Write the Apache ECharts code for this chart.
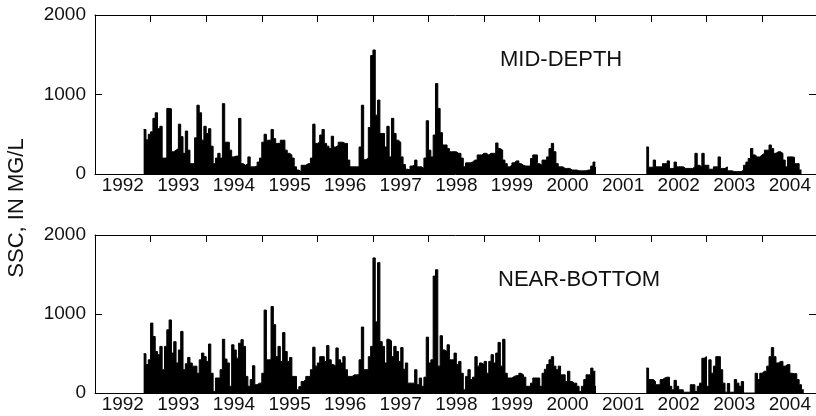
<!DOCTYPE html>
<html>
<head>
<meta charset="utf-8">
<script src="https://cdn.jsdelivr.net/npm/echarts@6/dist/echarts.min.js"></script>
<style>
html, body { margin: 0; padding: 0; background: #fff; }
#chart { width: 816px; height: 416px; }
</style>
</head>
<body>
<div id="chart"></div>
<script>
// one row per year, 24 half-month values (SSC, mg/L), null = no record
const years = [1992, 1993, 1994, 1995, 1996, 1997, 1998, 1999, 2000, 2001, 2002, 2003, 2004]
const yearTicks = [1993, 1994, 1995, 1996, 1997, 1998, 1999, 2000, 2001, 2002, 2003, 2004]
const yearLabelPos = [1992.5, 1993.5, 1994.5, 1995.5, 1996.5, 1997.5, 1998.5, 1999.5, 2000.5, 2001.5, 2002.5, 2003.5, 2004.5]
const panelNames = ['MID-DEPTH', 'NEAR-BOTTOM']

const midDepth = [
  [null, null, null, null, null, null, null, null, null, null, null, null, null, null, null, null, null, null, null, null, null, 560, 430, 500],
  [530, 700, 770, 570, 600, 200, 200, 825, 820, 280, 300, 320, 627, 470, 260, 540, 300, 130, 130, 455, 865, 770, 426, 600],
  [510, 570, 350, 130, 200, 260, 200, 885, 400, 400, 300, 215, 225, 225, 700, 130, 110, 130, 215, 90, 90, 100, 150, 200],
  [400, 500, 425, 425, 560, 445, 385, 385, 425, 425, 300, 260, 240, 200, 90, 50, 30, 110, 110, 130, 130, 200, 627, 385],
  [400, 490, 560, 385, 350, 320, 475, 340, 360, 400, 400, 385, 385, 175, 90, 90, 90, 90, 340, 865, 180, 200, 585, 1490],
  [1560, 740, 930, 510, 510, 340, 600, 215, 700, 510, 425, 400, 215, 120, 60, 50, 100, 113, 175, 90, 90, 70, 200, 670],
  [300, 215, 490, 1137, 825, 520, 365, 365, 320, 280, 280, 280, 260, 260, 200, 90, 140, 140, 150, 175, 175, 240, 240, 260],
  [260, 240, 260, 260, 260, 390, 320, 300, 175, 130, 90, 110, 140, 165, 165, 130, 110, 100, 100, 100, 195, 240, 240, 130],
  [110, 175, 175, 215, 320, 385, 280, 130, 90, 90, 70, 70, 70, 50, 50, 50, 40, 40, 40, 40, 50, 50, 100, 150],
  [null, null, null, null, null, null, null, null, null, null, null, null, null, null, null, null, null, null, null, null, null, null, 340, 85],
  [85, 175, 90, 90, 90, 130, 130, 165, 70, 70, 150, 90, 90, 90, 70, 70, 70, 70, 90, 260, 110, 90, 260, 110],
  [110, 60, 60, 90, 90, 215, 70, 70, 90, 40, 40, 30, 30, 30, 30, 50, 110, 150, 195, 320, 240, 215, 215, 240],
  [260, 300, 300, 365, 320, 260, 280, 280, 260, 175, 90, 215, 215, 210, 130, 130, 50, null, null, null, null, null, null, null]
]

const nearBottom = [
  [null, null, null, null, null, null, null, null, null, null, null, null, null, null, null, null, null, null, null, null, null, 497, 360, 420],
  [885, 715, 525, 485, 590, 295, 590, 800, 925, 505, 650, 380, 545, 780, 295, 370, 450, 380, 340, 340, 250, 420, 505, 460],
  [400, 620, 250, 20, 190, 190, 295, 680, 430, 380, 85, 610, 545, 440, 630, 675, 590, 210, 85, 170, 345, 105, 125, 125],
  [250, 1050, 420, 420, 1095, 865, 460, 590, 400, 765, 525, 400, 450, 210, 210, 40, 80, 145, 170, 210, 210, 295, 580, 340],
  [380, 460, 460, 400, 600, 420, 360, 340, 570, 420, 380, 460, 295, 210, 210, 230, 230, 230, 420, 835, 295, 295, 460, 590],
  [1710, 900, 1650, 650, 590, 380, 680, 660, 460, 590, 525, 400, 575, 300, 380, 125, 125, 125, 295, 105, 190, 85, 200, 707],
  [380, 420, 1480, 1560, 340, 725, 545, 525, 610, 420, 420, 505, 360, 400, 250, 40, 210, 295, 170, 200, 460, 340, 380, 360],
  [400, 250, 400, 485, 380, 505, 640, 340, 680, 250, 190, 190, 210, 220, 220, 250, 230, 200, 85, 85, 125, 190, 190, 190],
  [85, 250, 300, 360, 420, 460, 340, 295, 340, 230, 230, 145, 275, 145, 125, 125, 85, 20, 85, 170, 230, 230, 315, 275],
  [null, null, null, null, null, null, null, null, null, null, null, null, null, null, null, null, null, null, null, null, null, null, 315, 170],
  [170, 145, 105, 105, 170, 190, 200, 200, 85, 40, 160, 85, 40, 40, 10, 10, 10, 105, 105, 20, 85, 125, 440, 460],
  [85, 420, 250, 340, 460, 460, 295, 125, 10, 120, 10, 10, 170, 125, 85, 145, 0, 0, 0, 0, 0, 250, 170, 250],
  [275, 275, 340, 460, 575, 460, 380, 400, 400, 340, 360, 360, 250, 245, 245, 170, 105, 40, null, null, null, null, null, null]
]

function toPoints (rows) {
  var out = []
  rows.forEach(function (row, i) {
    row.forEach(function (v, j) {
      out.push([years[i] + (j + 0.5) / 24, v === null ? '-' : v])
    })
  })
  return out
}

var font = '"Liberation Sans", Arial, Helvetica, sans-serif'
var ink = '#111'

function xAxisFor (grid, pos) {
  return {
    type: 'value',
    gridIndex: grid,
    position: pos,
    min: 1992,
    max: 2004.97,
    axisLine: { show: true, onZero: false, lineStyle: { color: '#000', width: 1 } },
    axisTick: { show: true, inside: true, length: 7, customValues: yearTicks, lineStyle: { color: '#000' } },
    axisLabel: pos === 'bottom' ? {
      show: true,
      customValues: yearLabelPos,
      formatter: function (v) { return String(Math.floor(v)) },
      color: ink,
      fontFamily: font,
      fontSize: 19,
      margin: 2
    } : { show: false },
    splitLine: { show: false }
  }
}

function yAxisFor (grid, pos) {
  return {
    type: 'value',
    gridIndex: grid,
    position: pos,
    min: 0,
    max: 2000,
    interval: 1000,
    axisLine: { show: true, onZero: false, lineStyle: { color: '#000', width: 1 } },
    axisTick: { show: true, inside: true, length: 7, lineStyle: { color: '#000' } },
    axisLabel: pos === 'left' ? {
      show: true,
      formatter: function (v) { return String(v) },
      color: ink,
      fontFamily: font,
      fontSize: 19,
      margin: 9
    } : { show: false },
    splitLine: { show: false }
  }
}

function panelSeries (rows, idx) {
  return {
    type: 'line',
    xAxisIndex: idx * 2,
    yAxisIndex: idx * 2,
    data: toPoints(rows),
    step: 'middle',
    symbol: 'none',
    connectNulls: false,
    lineStyle: { color: '#000', width: 1 },
    areaStyle: { color: '#000', opacity: 1 }
  }
}

var chart = echarts.init(document.getElementById('chart'))
chart.setOption({
  animation: false,
  backgroundColor: '#fff',
  grid: [
    { left: 95, top: 15, width: 722, height: 159 },
    { left: 95, top: 235, width: 722, height: 158 }
  ],
  xAxis: [xAxisFor(0, 'bottom'), xAxisFor(0, 'top'), xAxisFor(1, 'bottom'), xAxisFor(1, 'top')],
  yAxis: [yAxisFor(0, 'left'), yAxisFor(0, 'right'), yAxisFor(1, 'left'), yAxisFor(1, 'right')],
  series: [panelSeries(midDepth, 0), panelSeries(nearBottom, 1)],
  graphic: [
    { type: 'text', x: 500, y: 60, style: { text: panelNames[0], font: '22px ' + font, fill: ink, align: 'left', verticalAlign: 'middle' } },
    { type: 'text', x: 498, y: 280, style: { text: panelNames[1], font: '22px ' + font, fill: ink, align: 'left', verticalAlign: 'middle' } },
    { type: 'text', x: 17, y: 208, rotation: Math.PI / 2, style: { text: 'SSC, IN MG/L', font: '22px ' + font, fill: ink, align: 'center', verticalAlign: 'middle' } }
  ]
})
</script>
</body>
</html>
